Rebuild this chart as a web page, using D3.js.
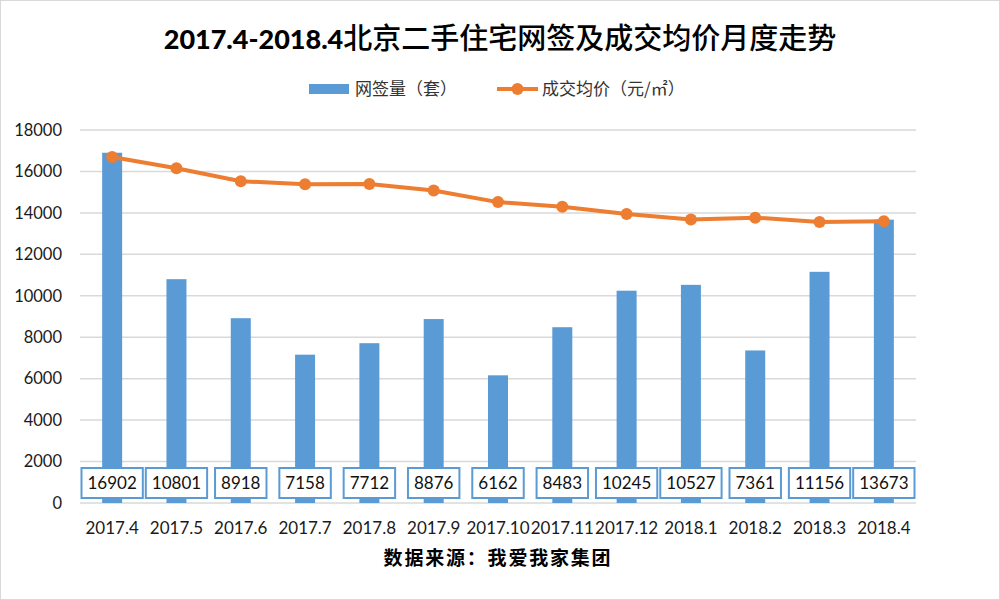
<!DOCTYPE html>
<html><head><meta charset="utf-8">
<script src="https://cdn.jsdelivr.net/npm/d3@7/dist/d3.min.js"></script>
<style>
html,body{margin:0;padding:0;background:#fff;}
svg{display:block;}
</style></head>
<body>
<svg id="chart" width="1000" height="600"></svg>
<script>
const months = ["2017.4","2017.5","2017.6","2017.7","2017.8","2017.9","2017.10","2017.11","2017.12","2018.1","2018.2","2018.3","2018.4"];
const deals = [16902,10801,8918,7158,7712,8876,6162,8483,10245,10527,7361,11156,13673];
const avgPrice = [16700,16150,15530,15380,15390,15080,14520,14300,13950,13680,13770,13560,13600];
const yTicks = [0,2000,4000,6000,8000,10000,12000,14000,16000,18000];
const titleLatin = "2017.4-2018.4";
const titleCn = "北京二手住宅网签及成交均价月度走势";
const legendBar = "网签量（套）";
const legendLine = "成交均价（元/㎡）";
const source = "数据来源：我爱我家集团";

const svg = d3.select("#chart");
const W = 1000, H = 600;
const margin = {left:80, right:84, top:130, bottom:97};
const latin = "Lato, 'Noto Sans CJK SC', sans-serif";
const cjk = "'Noto Sans CJK SC', sans-serif";

svg.append("rect").attr("x",0.5).attr("y",0.5).attr("width",W-1).attr("height",H-1)
  .attr("fill","#fff").attr("stroke","#d9d9d9");

const x = d3.scaleBand().domain(months).range([margin.left, W-margin.right]);
const y = d3.scaleLinear().domain([0,18000]).range([H-margin.bottom, margin.top]);

// grid
svg.append("g").selectAll("line").data(yTicks).join("line")
  .attr("x1",margin.left).attr("x2",W-margin.right)
  .attr("y1",d=>y(d)).attr("y2",d=>y(d))
  .attr("stroke","#d9d9d9").attr("stroke-width",1.5);

// y axis labels
const yAxis = d3.axisLeft(y).tickValues(yTicks).tickSize(0).tickPadding(0).tickFormat(d=>d);
const ya = svg.append("g").attr("transform",`translate(${margin.left-18},0)`).call(yAxis);
ya.select(".domain").remove();
ya.selectAll("text").attr("font-family",latin).attr("font-size",16.5).attr("fill","#1a1a1a");

// x axis labels
const xAxis = d3.axisBottom(x).tickSize(0).tickPadding(0);
const xa = svg.append("g").attr("transform",`translate(0,${y(0)+19})`).call(xAxis);
xa.select(".domain").remove();
xa.selectAll("text").attr("font-family",latin).attr("font-size",17).attr("fill","#1a1a1a");

// bars
const bw = 20;
svg.append("g").selectAll("rect").data(deals).join("rect")
  .attr("x",(d,i)=>x(months[i])+x.bandwidth()/2-bw/2)
  .attr("width",bw)
  .attr("y",d=>y(d)).attr("height",d=>y(0)-y(d))
  .attr("fill","#5b9bd5");

// line
const line = d3.line().x((d,i)=>x(months[i])+x.bandwidth()/2).y(d=>y(d));
svg.append("path").datum(avgPrice).attr("d",line).attr("fill","none")
  .attr("stroke","#ed7d31").attr("stroke-width",4).attr("stroke-linejoin","round");
svg.append("g").selectAll("circle").data(avgPrice).join("circle")
  .attr("cx",(d,i)=>x(months[i])+x.bandwidth()/2).attr("cy",d=>y(d)).attr("r",6)
  .attr("fill","#ed7d31");

// data label boxes
const lg = svg.append("g");
deals.forEach((d,i)=>{
  const cx = x(months[i])+x.bandwidth()/2;
  const g = lg.append("g");
  const r = g.append("rect");
  const t = g.append("text").attr("x",cx).attr("y",483).attr("dy","0.35em")
    .attr("text-anchor","middle").attr("font-family",latin).attr("font-size",17)
    .attr("fill","#111").text(d);
  const w = t.node().getComputedTextLength()+12;
  r.attr("x",cx-w/2).attr("y",468).attr("width",w).attr("height",30)
   .attr("fill","#fff").attr("stroke","#5b9bd5").attr("stroke-width",2);
});

// title
const tt = svg.append("text").attr("x",500).attr("y",49).attr("text-anchor","middle").attr("fill","#000");
tt.append("tspan").attr("font-family",latin).attr("font-weight",900).attr("font-size",27).text(titleLatin);
tt.append("tspan").attr("font-family",cjk).attr("font-weight",500).attr("font-size",29).text(titleCn);

// legend
svg.append("rect").attr("x",309).attr("y",84).attr("width",40).attr("height",10).attr("fill","#5b9bd5");
svg.append("text").attr("x",355).attr("y",89).attr("dy","0.35em").attr("font-family",cjk)
  .attr("font-size",17).attr("fill","#333").text(legendBar);
svg.append("line").attr("x1",497).attr("x2",538).attr("y1",89).attr("y2",89)
  .attr("stroke","#ed7d31").attr("stroke-width",4);
svg.append("circle").attr("cx",517.5).attr("cy",89).attr("r",6).attr("fill","#ed7d31");
svg.append("text").attr("x",542).attr("y",89).attr("dy","0.35em").attr("font-family",cjk)
  .attr("font-size",17).attr("fill","#333").text(legendLine);

// source
svg.append("text").attr("x",498).attr("y",558).attr("dy","0.35em").attr("text-anchor","middle")
  .attr("font-family",cjk).attr("font-weight",700).attr("font-size",19).attr("letter-spacing",1.8)
  .attr("fill","#000").text(source);
</script>
</body></html>
